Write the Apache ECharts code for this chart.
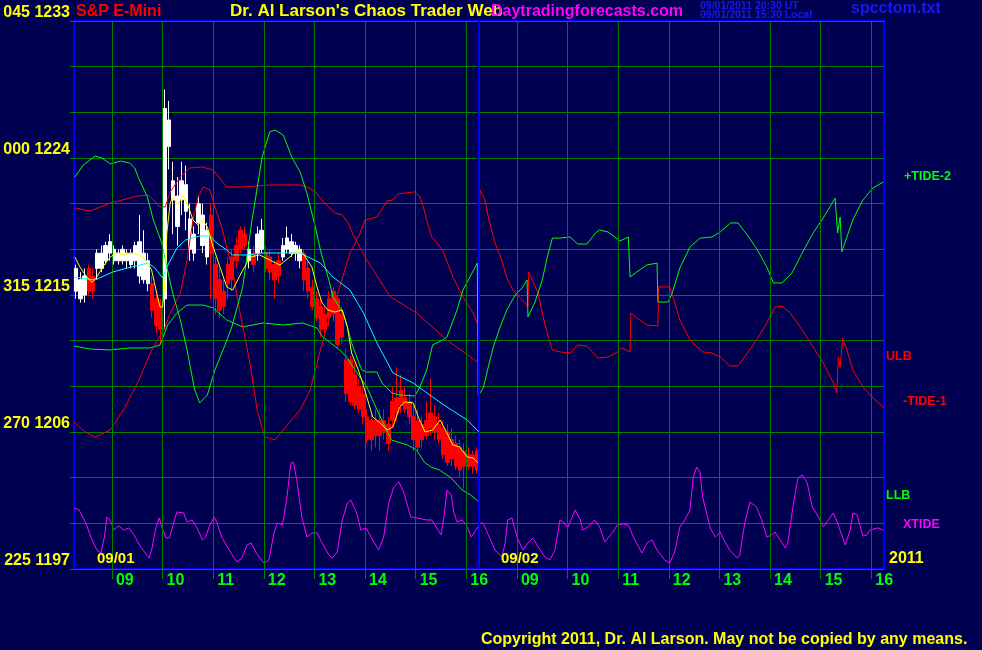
<!DOCTYPE html>
<html><head><meta charset="utf-8">
<script src="https://cdn.jsdelivr.net/npm/echarts@6/dist/echarts.min.js"></script>
<style>html,body{margin:0;padding:0;background:#000050;}#c{width:982px;height:650px;}</style>
</head><body><div id="c"></div>
<script>
// ---- axes / ticks ----
const hourTicks = [60,120,180,240,300,360,420,480,540,600,660,720,780,840,900,960]; // minutes (day 2 offset by 480)
const hourLabels = ['09','10','11','12','13','14','15','16','09','10','11','12','13','14','15','16'];
const yLabelValues = [1197,1206,1215,1224,1233];
const yLabelAngles = ['225','270','315','000','045'];
const dayBreak = 495;
const sessionStart = 15, sessionEnd = 975, barStep = 5;

// ---- price bars (5-min, day 1): [open, close, low, high] ----
const priceBars = [
[1215.25,1216.75,1214.75,1217],[1214.75,1216,1214.5,1216.5],[1215,1216.25,1214.5,1216.75],[1216.75,1215.25,1215,1217],
[1216.25,1215.25,1214.75,1216.75],[1216.75,1217.75,1216,1218],[1216.75,1217.75,1216.5,1218.25],[1217.25,1218.25,1217,1218.5],
[1217.75,1218.5,1217.25,1219],[1217.25,1218,1217,1218.25],[1217.25,1217.75,1217,1218],[1217.25,1218,1217,1218.25],
[1217.25,1217.75,1216.75,1218],[1217,1217.75,1216.75,1218],[1217.25,1218.25,1216.75,1218.5],[1216.25,1218.5,1215.75,1220.25],
[1216,1217.75,1215.75,1219.25],[1215.75,1217.25,1215.25,1217.75],[1215.75,1214,1213.5,1216.25],[1214.75,1213,1212.5,1215.25],
[1214.25,1212.75,1211.75,1214.75],[1214.75,1227.25,1212.75,1228.5],[1224.75,1226.5,1223.25,1227.75],[1221.25,1222.5,1219,1223.75],
[1219.5,1221.5,1218.25,1222.75],[1221.25,1222.5,1220.25,1223.75],[1220.5,1222.25,1219.25,1223.5],[1218,1220,1217.25,1221],
[1217.75,1219,1217.25,1219.5],[1219.75,1221,1219,1221.5],[1218.25,1220.25,1217.75,1221],[1217.5,1219.25,1217,1219.75],
[1220.25,1217.75,1214.75,1221],[1217,1214.75,1213.75,1217.5],[1216,1214,1213.5,1216.75],[1215.25,1214.25,1213.75,1216],
[1217,1215.75,1214.75,1217.5],[1217.5,1216,1215.25,1218],[1218.25,1217.25,1216.75,1218.75],[1219.25,1218,1217.75,1219.5],
[1219,1218.25,1218,1219.5],[1217.25,1218,1216.75,1218.5],[1217.75,1217,1216.5,1218.25],[1217.75,1219,1217.25,1219.5],
[1218,1219.25,1217.75,1220],[1217.75,1216.75,1216.5,1218.25],[1217.5,1216.5,1216,1218],[1217,1216,1214.75,1217.25],
[1217.25,1216.25,1215.75,1217.75],[1217.5,1218.25,1217.25,1218.75],[1218,1218.75,1217.75,1219.5],[1217.75,1218.5,1217.5,1219],
[1217.75,1218.25,1217.25,1218.5],[1217.25,1218,1216.75,1218.25],[1217.75,1216,1215.25,1218],[1216.75,1215.25,1214.75,1217.25],
[1215.5,1214.25,1214,1216],[1214.75,1213.5,1213.25,1215.25],[1214.25,1212.75,1212.25,1214.75],[1213.75,1212.75,1212.5,1214.25],
[1214.75,1213.5,1213,1215.25],[1215.25,1213.75,1213.25,1215.5],[1214.75,1211.75,1211.5,1215],[1213.75,1212.25,1211.75,1214.25],
[1210.75,1208.5,1208,1211.5],[1210.75,1208,1207.75,1211],[1209.75,1207.75,1207.5,1210.5],[1209,1207.5,1207.25,1209.5],
[1208.5,1207,1206.5,1209],[1207,1205.5,1205.25,1207.5],[1206.75,1205.5,1204.75,1207.25],[1206.75,1205.75,1205,1207.5],
[1206.75,1205.75,1204.75,1207.5],[1206.75,1206,1205.5,1207.5],[1206.5,1205.25,1204.75,1207],[1208,1206.75,1206.25,1209],
[1208.25,1207.25,1206.75,1210.25],[1208.75,1207.75,1207.25,1209.75],[1208.25,1207.5,1207.25,1209],[1208,1207,1206.5,1208.5],
[1207,1205.5,1204.75,1207.75],[1206.75,1205,1204.75,1207.5],[1206.5,1205.5,1205,1207],[1206.75,1205.75,1205.5,1208],
[1207.25,1206.25,1205.75,1209.5],[1207,1206,1205.5,1207.75],[1206.5,1205.5,1205.25,1207.25],[1206.25,1204.5,1204.25,1206.75],
[1206,1204,1203.75,1206.5],[1205.5,1204.25,1203.75,1206.25],[1205.25,1203.75,1203.5,1205.75],[1205,1203.5,1203,1205.5],
[1204.75,1203.75,1202.25,1205.25],[1204.5,1203.75,1203.5,1205],[1204.5,1203.75,1203.25,1204.75],[1204.75,1203.5,1203.25,1205]
];
// W = bar above the fast average (white), R = below (red)
const barSide = 'WWWRRWWWWWWWWWWWWWRRRWWWWWWWWWWWRRRRRRRRRWRWWRRRRWWWWWRRRRRRRRRRRRRRRRRRRRRRRRRRRRRRRRRRRRRRRRRR';

// ---- indicator lines: [minute, price] ----
const fastAvg = [[16,1217.50],[22,1216.84],[30,1216.18],[36,1215.85],[42,1216.18],[49,1216.84],[58,1217.50],[66,1217.76],[75,1217.63],[85,1217.76],[97,1217.50],[107,1216.64],[113,1215.13],[117,1214.21],[120,1214.21],[123,1215.99],[125,1219.07],[129,1221.04],[132,1221.44],[138,1220.91],[144,1221.57],[150,1220.91],[156,1219.93],[162,1219.60],[167,1219.93],[173,1219.47],[180,1218.15],[188,1216.84],[196,1215.53],[203,1215.33],[215,1216.64],[224,1217.50],[235,1217.63],[247,1217.30],[259,1216.97],[271,1217.50],[279,1217.96],[286,1217.76],[297,1216.84],[303,1215.53],[309,1214.48],[316,1214.02],[324,1213.88],[333,1214.02],[339,1212.90],[344,1211.19],[352,1210.07],[356,1209.42],[362,1208.30],[369,1206.99],[378,1206.59],[386,1206.13],[393,1206.33],[401,1207.64],[407,1207.97],[417,1207.91],[423,1206.99],[431,1206.0],[440,1206.13],[449,1206.79],[457,1205.94],[464,1205.15],[472,1205.02],[481,1204.36],[488,1204.29],[494,1203.97]];
const slowAvg = [[16,1216.18],[40,1215.99],[61,1216.51],[78,1216.77],[103,1217.10],[111,1216.77],[120,1216.12],[125,1216.84],[137,1218.09],[147,1218.61],[164,1218.88],[176,1218.88],[184,1218.42],[196,1217.96],[203,1217.63],[220,1217.63],[239,1217.76],[263,1217.76],[283,1217.76],[307,1217.10],[322,1216.18],[342,1215.33],[358,1213.82],[374,1211.85],[393,1209.88],[417,1209.22],[440,1208.30],[457,1207.64],[481,1206.79],[495,1206.0]];
const ulb = [[16,1220.72],[34,1220.52],[58,1221.04],[90,1221.50],[103,1221.57],[117,1220.78],[123,1220.78],[129,1221.77],[141,1222.75],[152,1223.34],[167,1223.41],[180,1223.21],[196,1222.10],[215,1222.10],[247,1222.23],[283,1222.23],[291,1222.10],[301,1221.77],[312,1221.04],[324,1220.39],[333,1220.26],[340,1219.73],[346,1218.94],[362,1217.30],[390,1214.87],[421,1213.82],[457,1212.04],[493,1210.60]];
const llb = [[15,1211.65],[34,1211.45],[58,1211.39],[81,1211.52],[105,1211.52],[117,1211.72],[126,1213.03],[137,1213.82],[149,1214.34],[168,1214.34],[180,1214.15],[196,1213.36],[215,1212.90],[239,1213.16],[263,1213.03],[286,1213.16],[303,1212.83],[310,1212.24],[322,1211.72],[330,1211.39],[339,1210.86],[348,1210.07],[362,1208.96],[378,1206.99],[391,1205.48],[410,1205.15],[421,1204.82],[430,1204.03],[438,1203.70],[448,1203.51],[462,1202.98],[475,1202.19],[485,1201.86],[495,1201.40]];
const tidePlus2 = [[16,1222.75],[26,1223.54],[40,1224.13],[48,1224.0],[58,1223.61],[70,1223.80],[81,1223.67],[87,1223.34],[91,1222.75],[102,1221.44],[109,1219.93],[119,1218.42],[125,1216.84],[132,1215.13],[141,1213.36],[149,1211.39],[158,1208.76],[164,1207.91],[173,1208.43],[182,1210.07],[194,1211.72],[202,1212.90],[215,1215.53],[226,1219.93],[238,1224.07],[247,1225.71],[253,1225.84],[263,1225.51],[273,1224.07],[283,1223.08],[291,1221.70],[301,1219.47],[307,1217.96],[318,1215.79],[322,1214.87],[334,1213.82],[340,1212.70],[344,1211.85],[350,1210.93],[356,1210.07],[362,1209.94],[374,1209.94],[380,1209.22],[392,1208.56],[401,1208.43],[419,1208.37],[425,1208.96],[433,1210.07],[440,1211.72],[452,1212.04],[457,1212.24],[469,1214.02],[476,1215.33],[493,1217.10],[494,1208.37],
[496,1208.30],[500,1208.89],[506,1210.27],[512,1211.59],[520,1212.90],[528,1214.02],[538,1215.0],[546,1215.46],[552,1215.99],[553,1213.56],[561,1214.48],[570,1215.99],[576,1217.50],[582,1218.74],[591,1218.74],[603,1218.81],[612,1218.35],[623,1218.35],[633,1219.07],[638,1219.27],[648,1219.14],[662,1218.55],[672,1218.81],[673,1218.81],[674,1216.18],[682,1216.51],[694,1216.97],[706,1217.10],[707,1214.54],[719,1214.54],[724,1215.13],[733,1216.77],[745,1218.15],[757,1218.74],[771,1218.81],[781,1219.14],[793,1219.73],[802,1219.73],[813,1218.94],[825,1217.96],[836,1216.84],[844,1215.79],[854,1215.79],[866,1216.45],[878,1217.76],[891,1219.07],[903,1220.06],[917,1221.37],[919,1221.44],[920,1219.07],[923,1220.12],[925,1217.83],[931,1218.81],[938,1219.93],[950,1221.24],[962,1222.03],[974,1222.42]];
const tideMinus1 = [[15,1206.66],[28,1206.00],[40,1205.67],[58,1206.13],[75,1207.58],[93,1209.55],[107,1211.39],[123,1212.90],[129,1213.82],[141,1215.13],[149,1217.30],[156,1219.93],[162,1221.44],[168,1222.10],[176,1221.90],[182,1220.78],[190,1219.47],[196,1218.15],[203,1216.64],[209,1214.67],[215,1212.90],[224,1210.40],[232,1207.45],[241,1205.67],[253,1205.48],[271,1206.66],[283,1207.45],[295,1208.76],[307,1211.39],[318,1213.56],[330,1215.53],[342,1217.76],[350,1218.61],[354,1219.07],[360,1219.93],[362,1220.06],[374,1220.12],[381,1220.72],[386,1221.18],[393,1221.24],[399,1221.64],[407,1221.70],[419,1221.77],[425,1221.44],[429,1220.78],[433,1219.93],[439,1218.81],[445,1218.42],[452,1217.96],[464,1216.18],[476,1214.87],[488,1213.82],[494,1213.03],
[496,1221.90],[502,1221.24],[506,1220.12],[514,1218.42],[522,1217.30],[528,1216.12],[535,1215.33],[544,1214.80],[550,1214.48],[553,1214.21],[554,1216.51],[559,1215.85],[565,1215.13],[571,1213.56],[577,1212.24],[582,1211.39],[591,1211.26],[603,1211.19],[612,1211.72],[623,1211.65],[636,1210.86],[648,1210.93],[659,1211.26],[664,1211.52],[674,1211.26],[675,1213.82],[682,1213.49],[694,1213.03],[707,1212.96],[708,1215.53],[721,1215.53],[725,1214.87],[733,1213.36],[745,1212.04],[760,1211.26],[771,1211.19],[781,1210.93],[792,1210.34],[802,1210.34],[813,1211.19],[824,1212.04],[836,1213.16],[846,1214.21],[854,1214.28],[864,1213.82],[878,1212.70],[891,1211.59],[903,1210.53],[915,1209.22],[919,1208.56],[921,1210.93],[923,1210.27],[926,1212.18],[931,1211.39],[938,1210.07],[950,1208.96],[962,1208.23],[975,1207.58]];
const xTide = [[15,1201.01],[21,1200.88],[29,1200.02],[35,1199.10],[42,1198.25],[47,1198.05],[51,1199.10],[54,1200.42],[59,1200.09],[62,1199.56],[68,1199.83],[74,1199.56],[80,1199.70],[86,1199.24],[94,1198.45],[104,1197.72],[107,1198.25],[112,1199.70],[116,1200.35],[119,1199.76],[124,1199.04],[128,1199.04],[134,1200.22],[137,1200.75],[145,1200.68],[149,1200.09],[155,1200.22],[161,1199.70],[167,1198.91],[171,1199.10],[175,1199.76],[181,1200.42],[184,1200.09],[190,1199.10],[201,1198.05],[208,1197.46],[214,1197.72],[220,1198.58],[225,1198.71],[231,1198.05],[240,1197.39],[246,1197.59],[252,1199.37],[256,1200.02],[262,1199.89],[267,1201.53],[272,1203.96],[275,1204.03],[279,1202.85],[285,1200.42],[291,1199.10],[297,1199.37],[303,1199.37],[309,1198.71],[317,1197.92],[321,1197.72],[327,1198.12],[333,1200.22],[339,1201.34],[343,1201.53],[350,1200.68],[355,1199.56],[361,1199.70],[367,1199.10],[376,1198.25],[382,1199.10],[388,1201.34],[394,1202.39],[400,1202.72],[406,1202.0],[414,1200.42],[422,1200.35],[427,1200.29],[433,1200.22],[439,1200.22],[445,1199.70],[450,1199.24],[454,1200.68],[457,1202.19],[462,1201.86],[465,1200.75],[469,1200.09],[475,1200.22],[480,1199.89],[486,1199.10],[493,1199.70],
[496,1200.02],[500,1200.02],[506,1199.24],[514,1198.25],[522,1197.79],[526,1198.71],[529,1200.22],[534,1200.35],[540,1199.10],[547,1198.25],[553,1198.71],[559,1199.04],[565,1198.45],[573,1197.79],[579,1197.59],[585,1198.25],[591,1200.22],[595,1200.09],[600,1199.70],[609,1200.88],[615,1200.22],[618,1199.56],[624,1199.76],[632,1200.22],[638,1199.76],[644,1198.78],[653,1199.37],[659,1199.89],[666,1199.96],[672,1199.89],[678,1199.10],[688,1198.05],[694,1198.71],[700,1198.91],[706,1198.25],[715,1197.59],[721,1197.39],[727,1198.12],[733,1199.76],[739,1200.22],[745,1200.88],[749,1203.05],[753,1203.70],[757,1203.31],[760,1201.73],[769,1199.70],[775,1199.10],[781,1199.43],[784,1199.04],[792,1198.25],[801,1197.72],[804,1197.92],[810,1200.02],[816,1201.40],[824,1201.07],[830,1200.22],[836,1199.10],[842,1199.24],[846,1199.43],[852,1198.91],[858,1198.38],[861,1198.71],[867,1201.07],[873,1202.98],[878,1203.18],[884,1202.65],[890,1201.07],[896,1200.55],[903,1199.76],[909,1200.22],[915,1200.68],[920,1200.02],[929,1198.58],[935,1199.56],[938,1200.68],[943,1200.55],[947,1199.76],[950,1199.17],[955,1199.24],[958,1199.56],[968,1199.70],[974,1199.56]];

// ---- build ----
const FONT = '"Liberation Sans", Arial, sans-serif';
const whiteBars = [], redBars = [];
priceBars.forEach((b, i) => {
  const t = sessionStart + barStep * i + barStep / 2;
  (barSide[i] === 'W' ? whiteBars : redBars).push([t, b[0], b[1], b[2], b[3]]);
});
function candle(name, data, col) {
  return { name, type: 'candlestick', data, encode: { x: 0, y: [1, 2, 3, 4] }, barWidth: 4, z: 3,
    itemStyle: { color: col, color0: col, borderColor: col, borderColor0: col, borderWidth: 1 } };
}
function line(name, data, col, z) {
  return { name, type: 'line', data, symbol: 'none', z: z || 4,
    lineStyle: { color: col, width: 1 } };
}
function txt(x, y, text, color, size, align) {
  return { type: 'text', x, y, silent: true, z: 10,
    style: { text, fill: color, font: 'bold ' + size + 'px ' + FONT,
      align: align || 'left', verticalAlign: 'middle', textAlign: align || 'left', textVerticalAlign: 'middle' } };
}

const chart = echarts.init(document.getElementById('c'), null, { renderer: 'canvas' });
chart.setOption({
  animation: false,
  backgroundColor: '#000050',
  grid: { left: 74, right: 98, top: 21, bottom: 81, show: true, borderColor: '#0000ff', borderWidth: 2, backgroundColor: 'transparent' },
  xAxis: {
    type: 'value', min: sessionStart, max: sessionEnd,
    axisLine: { show: false },
    splitLine: { show: false },
    axisTick: { show: true, customValues: hourTicks, length: 10, lineStyle: { color: '#008000', width: 1 } },
    axisLabel: { customValues: hourTicks, color: '#00ff00', fontSize: 16, fontWeight: 'bold', fontFamily: FONT,
      align: 'left', padding: [0, 0, 0, 4], margin: 4, verticalAlign: 'top',
      formatter: v => hourLabels[hourTicks.indexOf(v)] || '' }
  },
  yAxis: {
    type: 'value', min: 1197, max: 1233, interval: 3,
    axisLine: { show: false },
    axisTick: { show: true, length: 4, lineStyle: { color: '#008000' } },
    splitLine: { show: true, lineStyle: { color: '#008000', width: 1 } },
    axisLabel: { color: '#ffff00', fontSize: 16, fontWeight: 'bold', fontFamily: FONT, margin: 4,
      verticalAlign: 'bottom', lineHeight: 16,
      formatter: v => { const i = yLabelValues.indexOf(v); return i < 0 ? '' : yLabelAngles[i] + ' ' + v; } }
  },
  series: [
    { name: 'grid', type: 'line', data: [], z: 1,
      markLine: { silent: true, symbol: ['none', 'none'], label: { show: false }, animation: false,
        lineStyle: { color: '#008000', width: 1, type: 'solid' },
        data: hourTicks.map(v => ({ xAxis: v })).concat([{ xAxis: dayBreak, lineStyle: { color: '#0000ff', width: 2, type: 'solid' } }]) } },
    candle('above', whiteBars, '#ffffff'),
    candle('below', redBars, '#ff0000'),
    line('XTIDE', xTide, '#ff00ff'),
    line('LLB', llb, '#00ff00'),
    line('ULB', ulb, '#ff0000'),
    line('-TIDE-1', tideMinus1, '#ff0000'),
    line('+TIDE-2', tidePlus2, '#00ff00'),
    line('slow', slowAvg, '#00ffff', 5),
    line('fast', fastAvg, '#ffff00', 6)
  ],
  graphic: [
    txt(76, 11.5, 'S&P E-Mini', '#ff0000', 16),
    txt(230, 11.5, "Dr. Al Larson's Chaos Trader Web", '#ffff00', 17),
    txt(491, 11.5, 'Daytradingforecasts.com', '#ff00ff', 16),
    txt(700, 6.5, '09/01/2011 20:30 UT', '#1818f0', 10.5),
    txt(700, 15.5, '09/01/2011 15:30 Local', '#1818f0', 10.5),
    txt(851, 8.5, 'spcctom.txt', '#1818f0', 16),
    txt(97, 559, '09/01', '#ffff00', 15),
    txt(501, 559, '09/02', '#ffff00', 15),
    txt(889, 559, '2011', '#ffff00', 16),
    txt(904, 177, '+TIDE-2', '#00ff00', 12.5),
    txt(886, 357, 'ULB', '#ff0000', 12.5),
    txt(903, 402, '-TIDE-1', '#ff0000', 12.5),
    txt(886, 496, 'LLB', '#00ff00', 12.5),
    txt(903, 525, 'XTIDE', '#ff00ff', 12.5),
    txt(481, 640, 'Copyright 2011, Dr. Al Larson. May not be copied by any means.', '#ffff00', 16)
  ]
});
</script></body></html>
